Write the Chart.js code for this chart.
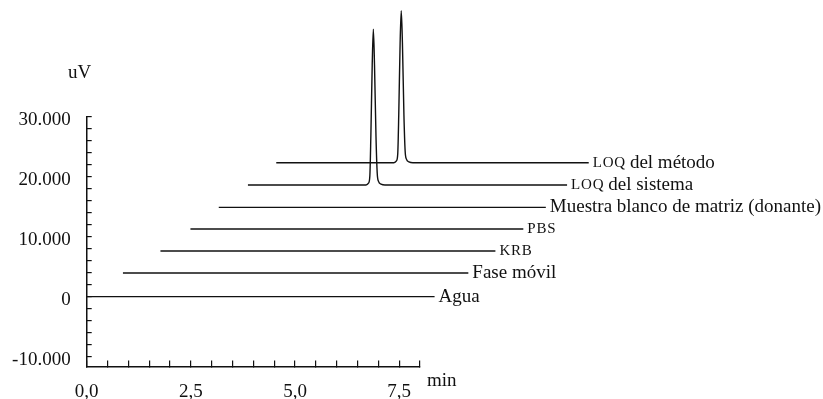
<!DOCTYPE html>
<html>
<head>
<meta charset="utf-8">
<script src="https://cdn.jsdelivr.net/npm/chart.js@4.4.1/dist/chart.umd.min.js"></script>
<style>
  html, body { margin: 0; padding: 0; background: #fff; }
  #wrap { width: 823px; height: 399px; }
</style>
</head>
<body>
<div id="wrap"><canvas id="chart" width="823" height="399"></canvas></div>
<script>
// ---------- Data (traces are drawn offset, as in the original waterfall plot) ----------
const seriesNames = [
  'Agua',
  'Fase móvil',
  'KRB',
  'PBS',
  'Muestra blanco de matriz (donante)',
  'LOQ del sistema',
  'LOQ del método'
];

const aguaX = [0, 8.35];
const aguaY = [0, 0];
const faseX = [0.87, 9.16];
const faseY = [3950, 3950];
const krbX = [1.77, 9.81];
const krbY = [7620, 7620];
const pbsX = [2.49, 10.48];
const pbsY = [11280, 11280];
const muestraX = [3.17, 11.02];
const muestraY = [14880, 14880];
const loqSistemaX = [3.87, 6.704, 6.764, 6.796, 6.820, 6.853, 6.880, 6.908, 6.944, 6.973, 7.004, 7.064, 7.160, 11.53];
const loqSistemaY = [18620, 18620, 18920, 20120, 26620, 38620, 44570, 38620, 26620, 20620, 19220, 18770, 18620, 18620];
const loqMetodoX = [4.55, 7.374, 7.434, 7.466, 7.490, 7.523, 7.550, 7.578, 7.614, 7.643, 7.674, 7.734, 7.830, 12.05];
const loqMetodoY = [22330, 22330, 22630, 23830, 30330, 42330, 47670, 42330, 30330, 24330, 22930, 22480, 22330, 22330];

const seriesX = [aguaX, faseX, krbX, pbsX, muestraX, loqSistemaX, loqMetodoX];
const seriesY = [aguaY, faseY, krbY, pbsY, muestraY, loqSistemaY, loqMetodoY];

const xTickValues = [0, 2.5, 5, 7.5];
const xTickLabels = ['0,0', '2,5', '5,0', '7,5'];
const yTickValues = [-10000, 0, 10000, 20000, 30000];
const yTickLabels = ['-10.000', '0', '10.000', '20.000', '30.000'];

const X_MIN = 0, X_MAX = 8, X_STEP = 0.5;
const Y_MIN = -11667, Y_MAX = 30000, Y_STEP = 2000;

const FONT = "'Liberation Serif', 'Times New Roman', serif";
const INK = '#111';

// ---------- Helpers ----------
function minorTicks(start, end, step) {
  const out = [];
  for (let v = start; v <= end + 1e-9; v += step) out.push({ value: +v.toFixed(4) });
  return out;
}

function labelFor(values, labels, v) {
  const i = values.findIndex(t => Math.abs(t - v) < 1e-6);
  return i >= 0 ? labels[i] : '';
}

const datasets = seriesNames.map((name, i) => ({
  label: name,
  data: seriesX[i].map((x, k) => ({ x, y: seriesY[i][k] })),
  borderColor: INK,
  borderWidth: 1.4,
  pointRadius: 0,
  fill: false,
  cubicInterpolationMode: 'monotone',
  clip: false
}));

// ---------- Labels at the end of each trace + axis units ----------
const CAPS_SPACING = 0.8;
const traceLabels = {
  id: 'traceLabels',
  afterDatasetsDraw(chart) {
    const ctx = chart.ctx;
    const hasSpacing = 'letterSpacing' in ctx;
    ctx.save();
    ctx.fillStyle = INK;
    ctx.textBaseline = 'middle';
    ctx.textAlign = 'left';

    chart.data.datasets.forEach((ds, i) => {
      const meta = chart.getDatasetMeta(i);
      const last = meta.data[meta.data.length - 1];
      let x = last.x + 4;
      const y = last.y;
      ds.label.split(' ').forEach((word, k) => {
        if (k > 0) {
          ctx.font = `19px ${FONT}`;
          if (hasSpacing) ctx.letterSpacing = '0px';
          x += ctx.measureText(' ').width;
        }
        // abbreviations are set in small capitals in the original
        const caps = /^[A-Z]{2,}$/.test(word);
        if (caps) {
          ctx.font = `15px ${FONT}`;
          if (hasSpacing) ctx.letterSpacing = CAPS_SPACING + 'px';
        } else {
          ctx.font = `19px ${FONT}`;
          if (hasSpacing) ctx.letterSpacing = '0px';
        }
        ctx.fillText(word, x, y + (caps ? 0.5 : 0));
        x += ctx.measureText(word).width - (caps && hasSpacing ? CAPS_SPACING : 0);
      });
      if (hasSpacing) ctx.letterSpacing = '0px';
    });

    const xs = chart.scales.x;
    const ys = chart.scales.y;
    ctx.font = `19px ${FONT}`;
    ctx.textAlign = 'center';
    ctx.fillText('uV', ys.right - 7, ys.top - 44);
    ctx.textAlign = 'left';
    ctx.fillText('min', xs.right + 7, xs.top + 14.5);
    ctx.restore();
  }
};

// ---------- Chart ----------
new Chart(document.getElementById('chart'), {
  type: 'line',
  data: { datasets },
  options: {
    responsive: false,
    animation: false,
    events: [],
    layout: { padding: { left: 0, right: 403, top: 116.7, bottom: 0 } },
    plugins: { legend: { display: false }, tooltip: { enabled: false } },
    scales: {
      x: {
        type: 'linear',
        min: X_MIN,
        max: X_MAX,
        afterBuildTicks: s => { s.ticks = minorTicks(X_MIN, X_MAX, X_STEP); },
        afterFit: s => { s.height = 32.3; },
        border: { display: true, color: INK, width: 1.5 },
        grid: { drawOnChartArea: false, drawTicks: true, tickLength: -6, color: INK, lineWidth: 1.2 },
        ticks: {
          autoSkip: false,
          maxRotation: 0,
          padding: 20.5,
          color: INK,
          font: { family: FONT, size: 19 },
          callback: v => labelFor(xTickValues, xTickLabels, v)
        }
      },
      y: {
        type: 'linear',
        min: Y_MIN,
        max: Y_MAX,
        afterBuildTicks: s => { s.ticks = minorTicks(-10000, Y_MAX, Y_STEP); },
        afterFit: s => { s.width = 86.7; },
        border: { display: true, color: INK, width: 1.5 },
        grid: { drawOnChartArea: false, drawTicks: true, tickLength: -5, color: INK, lineWidth: 1.2 },
        ticks: {
          autoSkip: false,
          padding: 21,
          labelOffset: 3,
          color: INK,
          font: { family: FONT, size: 19 },
          callback: v => labelFor(yTickValues, yTickLabels, v)
        }
      }
    }
  },
  plugins: [traceLabels]
});
</script>
</body>
</html>
